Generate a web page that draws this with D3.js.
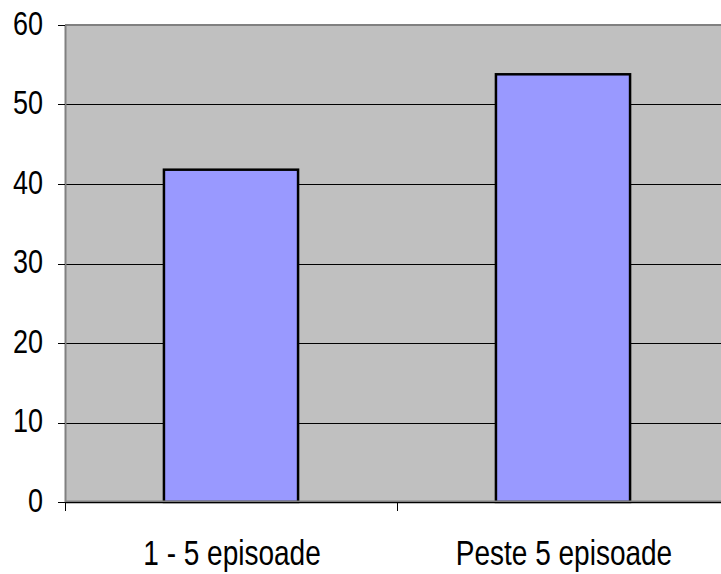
<!DOCTYPE html>
<html>
<head>
<meta charset="utf-8">
<script src="https://cdn.jsdelivr.net/npm/d3@7"></script>
<style>
  html, body { margin: 0; padding: 0; background: #fff; }
  svg { display: block; }
  text { font-family: "Liberation Sans", Arial, sans-serif; fill: #000; }
</style>
</head>
<body>
<div id="chart"></div>
<script>
const categories = ['1 - 5 episoade', 'Peste 5 episoade'];
const values = [41.8, 53.8];
const yTicks = [0, 10, 20, 30, 40, 50, 60];

function drawChart(selector) {
  const width = 721;
  const height = 574;
  const plotLeft = 65;
  const plotRight = 729; // plot runs off the right edge in the original
  const plotTop = 25;
  const plotBottom = 502;

  const svg = d3.select(selector).append('svg')
    .attr('width', width)
    .attr('height', height);

  const x = d3.scaleBand()
    .domain(categories)
    .range([plotLeft, plotRight])
    .padding(0);

  const y = d3.scaleLinear()
    .domain([0, 60])
    .range([plotBottom, plotTop]);

  const barWidth = x.bandwidth() * 0.404;

  // plot background
  svg.append('rect')
    .attr('x', plotLeft)
    .attr('y', plotTop)
    .attr('width', plotRight - plotLeft)
    .attr('height', plotBottom - plotTop)
    .attr('fill', '#c0c0c0');

  // gridlines
  svg.append('g')
    .selectAll('line')
    .data(yTicks.filter(d => d > 0 && d < 60))
    .join('line')
    .attr('x1', plotLeft)
    .attr('x2', plotRight)
    .attr('y1', d => Math.round(y(d)) + 0.5)
    .attr('y2', d => Math.round(y(d)) + 0.5)
    .attr('stroke', '#000')
    .attr('stroke-width', 1);

  // bars
  svg.append('g')
    .selectAll('rect')
    .data(values)
    .join('rect')
    .attr('x', (d, i) => x(categories[i]) + (x.bandwidth() - barWidth) / 2)
    .attr('y', d => y(d))
    .attr('width', barWidth)
    .attr('height', d => plotBottom - y(d))
    .attr('fill', '#9999ff')
    .attr('stroke', '#000')
    .attr('stroke-width', 2.5);

  // plot frame (top and left grey)
  svg.append('line')
    .attr('x1', plotLeft).attr('x2', plotRight)
    .attr('y1', plotTop).attr('y2', plotTop)
    .attr('stroke', '#808080').attr('stroke-width', 2);
  svg.append('line')
    .attr('x1', plotLeft + 0.5).attr('x2', plotLeft + 0.5)
    .attr('y1', plotTop).attr('y2', plotBottom)
    .attr('stroke', '#808080').attr('stroke-width', 2);

  // x axis line
  svg.append('line')
    .attr('x1', plotLeft).attr('x2', plotRight)
    .attr('y1', plotBottom).attr('y2', plotBottom)
    .attr('stroke', '#808080').attr('stroke-width', 3);
  svg.append('line')
    .attr('x1', plotLeft).attr('x2', plotRight)
    .attr('y1', plotBottom + 0.5).attr('y2', plotBottom + 0.5)
    .attr('stroke', '#000').attr('stroke-width', 1);

  // y tick marks
  svg.append('g')
    .selectAll('line')
    .data(yTicks)
    .join('line')
    .attr('x1', plotLeft - 7)
    .attr('x2', plotLeft)
    .attr('y1', d => Math.round(y(d)) + 0.5)
    .attr('y2', d => Math.round(y(d)) + 0.5)
    .attr('stroke', '#000');

  // x tick marks at category boundaries
  svg.append('g')
    .selectAll('line')
    .data(categories)
    .join('line')
    .attr('x1', d => Math.round(x(d)) + 0.5)
    .attr('x2', d => Math.round(x(d)) + 0.5)
    .attr('y1', plotBottom)
    .attr('y2', plotBottom + 9)
    .attr('stroke', '#000');

  // y tick labels (text is a bit tall and narrow in the original)
  svg.append('g')
    .selectAll('g')
    .data(yTicks)
    .join('g')
    .attr('transform', d => `translate(43, ${y(d) + 9.5}) scale(1, 1.25)`)
    .append('text')
    .attr('text-anchor', 'end')
    .style('font-size', '27px')
    .text(d => d);

  // category labels
  svg.append('g')
    .selectAll('g')
    .data(categories)
    .join('g')
    .attr('transform', d => `translate(${x(d) + x.bandwidth() / 2 + 1}, 565) scale(1, 1.25)`)
    .append('text')
    .attr('text-anchor', 'middle')
    .style('font-size', '28px')
    .text(d => d);
}

drawChart('#chart');
</script>
</body>
</html>
